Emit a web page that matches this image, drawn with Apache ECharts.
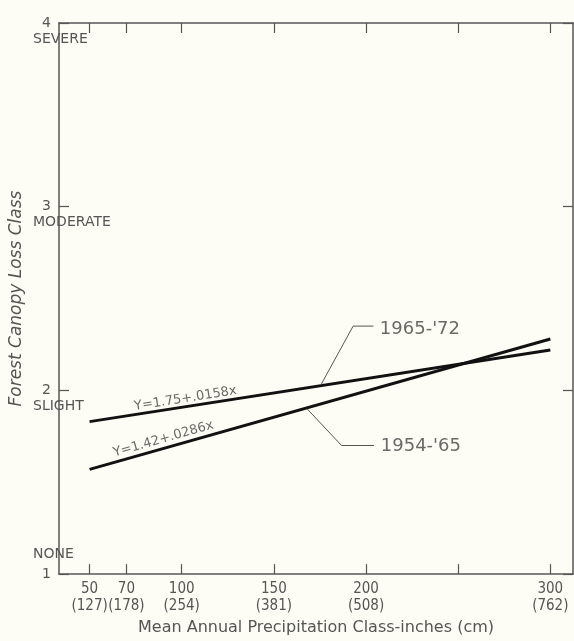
<!DOCTYPE html>
<html>
<head>
<meta charset="utf-8">
<script src="https://cdn.jsdelivr.net/npm/echarts@6/dist/echarts.min.js"></script>
<style>
  html, body { margin: 0; padding: 0; background: #fdfdf5; }
  #chart { width: 574px; height: 641px; }
</style>
</head>
<body>
<div id="chart"></div>
<script>
// Precipitation classes (inches) and their metric equivalents (cm)
const precipInches = [50, 70, 100, 150, 200, 300];
const precipCm = [127, 178, 254, 381, 508, 762];
const tickInches = [50, 70, 100, 150, 200, 250, 300];

// Canopy loss classes
const lossValues = [1, 2, 3, 4];
const lossNames = ['NONE', 'SLIGHT', 'MODERATE', 'SEVERE'];

// Fitted regression lines (endpoints at 50 and 300 inches)
const fit1965 = [[50, 1.83], [300, 2.22]];
const fit1954 = [[50, 1.57], [300, 2.28]];

// Equation labels placed along each line
const eq1965 = { text: 'Y=1.75+.0158x', at: [102, 1.955], angle: 9 };
const eq1954 = { text: 'Y=1.42+.0286x', at: [90, 1.735], angle: 16 };

// Callout leaders and their period labels
const leader1965 = [[175.5, 2.03], [193, 2.35], [204, 2.35]];
const leader1954 = [[168, 1.90], [186.7, 1.70], [204.3, 1.70]];
const period1965 = { text: "1965-'72", at: [207.5, 2.335] };
const period1954 = { text: "1954-'65", at: [208, 1.694] };

const ink = '#555';
const fontFamily = 'DejaVu Sans';
const narrowFamily = "'Liberation Sans Narrow', 'DejaVu Sans Condensed', 'Liberation Sans', sans-serif";

const chart = echarts.init(document.getElementById('chart'), null, { renderer: 'canvas' });

function textPoint(p, angle, size) {
  return {
    type: 'scatter',
    xAxisIndex: 0, yAxisIndex: 0,
    symbolSize: 0,
    silent: true,
    data: [{ value: p.at, name: p.text }],
    label: {
      show: true,
      position: 'inside',
      formatter: '{b}',
      rotate: angle || 0,
      color: '#444',
      fontFamily: fontFamily,
      fontSize: size
    }
  };
}

function leftText(p, size) {
  const s = textPoint(p, 0, size);
  s.label.position = 'right';
  s.label.distance = 0;
  return s;
}

const option = {
  backgroundColor: '#fdfdf5',
  animation: false,
  grid: { left: 51, right: 1, top: 14, bottom: 65, containLabel: false },
  xAxis: [
    {
      type: 'value', position: 'bottom',
      min: 33.4, max: 312.3,
      name: 'Mean Annual Precipitation Class-inches (cm)',
      nameLocation: 'middle', nameGap: 43,
      nameTextStyle: { color: ink, fontFamily: fontFamily, fontSize: 16 },
      axisLine: { show: true, onZero: false, lineStyle: { color: ink, width: 1.5 } },
      axisTick: { show: true, inside: true, length: 10, customValues: tickInches, lineStyle: { color: ink, width: 1.2 } },
      axisLabel: {
        show: true, customValues: precipInches, margin: 7, hideOverlap: false,
        showMinLabel: true, showMaxLabel: true,
        color: ink, fontFamily: narrowFamily, fontSize: 15, lineHeight: 17,
        formatter: function (v) {
          const i = precipInches.indexOf(v);
          return i < 0 ? '' : v + '\n(' + precipCm[i] + ')';
        }
      },
      splitLine: { show: false }
    },
    {
      type: 'value', position: 'top',
      min: 33.4, max: 312.3,
      axisLine: { show: true, onZero: false, lineStyle: { color: ink, width: 1.5 } },
      axisTick: { show: true, inside: true, length: 10, customValues: tickInches, lineStyle: { color: ink, width: 1.2 } },
      axisLabel: { show: false },
      splitLine: { show: false }
    }
  ],
  yAxis: [
    {
      type: 'value', position: 'left',
      min: 1, max: 4, interval: 1,
      name: 'Forest Canopy Loss Class',
      nameLocation: 'middle', nameGap: 34, nameRotate: 90,
      nameTextStyle: { color: ink, fontFamily: fontFamily, fontSize: 17, fontStyle: 'italic' },
      axisLine: { show: true, onZero: false, lineStyle: { color: ink, width: 1.5 } },
      axisTick: { show: true, inside: true, length: 10, lineStyle: { color: ink, width: 1.2 } },
      axisLabel: { show: true, margin: 8, color: ink, fontFamily: fontFamily, fontSize: 14 },
      splitLine: { show: false }
    },
    {
      type: 'value', position: 'left',
      min: 1, max: 4, interval: 1,
      axisLine: { show: false },
      axisTick: { show: false },
      axisLabel: {
        show: true, align: 'left', margin: 26, hideOverlap: false,
        formatter: function (v) {
          const i = lossValues.indexOf(v);
          if (i < 0) return '';
          return v === 1 ? '{up|' + lossNames[i] + '}' : '{dn|' + lossNames[i] + '}';
        },
        rich: {
          dn: { color: ink, fontFamily: fontFamily, fontSize: 14, lineHeight: 15, padding: [32, 0, 0, 0] },
          up: { color: ink, fontFamily: fontFamily, fontSize: 14, lineHeight: 15, padding: [0, 0, 40, 0] }
        }
      },
      splitLine: { show: false }
    },
    {
      type: 'value', position: 'right',
      min: 1, max: 4, interval: 1,
      axisLine: { show: true, onZero: false, lineStyle: { color: ink, width: 1.5 } },
      axisTick: { show: true, inside: true, length: 10, lineStyle: { color: ink, width: 1.2 } },
      axisLabel: { show: false },
      splitLine: { show: false }
    }
  ],
  series: [
    {
      type: 'line', name: "1965-'72", data: fit1965,
      xAxisIndex: 0, yAxisIndex: 0,
      symbol: 'none', lineStyle: { color: '#111', width: 3 }
    },
    {
      type: 'line', name: "1954-'65", data: fit1954,
      xAxisIndex: 0, yAxisIndex: 0,
      symbol: 'none', lineStyle: { color: '#111', width: 3 }
    },
    {
      type: 'line', data: leader1965,
      xAxisIndex: 0, yAxisIndex: 0,
      symbol: 'none', lineStyle: { color: '#555', width: 1 }
    },
    {
      type: 'line', data: leader1954,
      xAxisIndex: 0, yAxisIndex: 0,
      symbol: 'none', lineStyle: { color: '#555', width: 1 }
    },
    textPoint(eq1965, eq1965.angle, 13),
    textPoint(eq1954, eq1954.angle, 13),
    leftText(period1965, 18),
    leftText(period1954, 18)
  ]
};

chart.setOption(option);
</script>
</body>
</html>
